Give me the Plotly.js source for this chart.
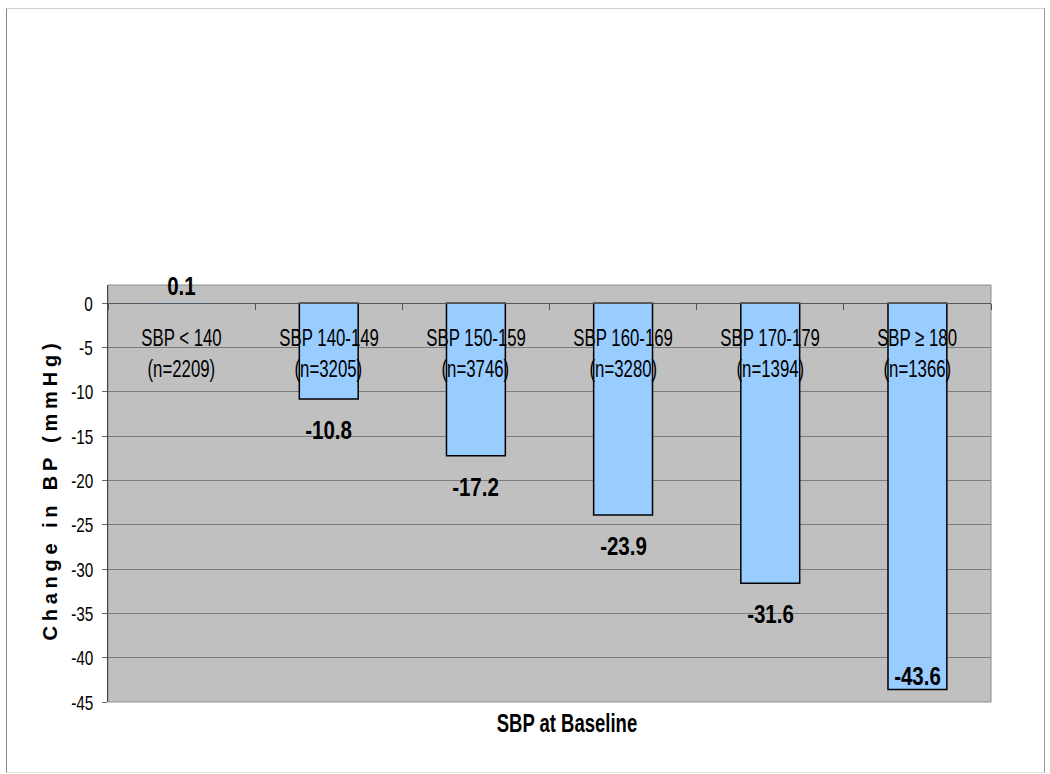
<!DOCTYPE html>
<html>
<head>
<meta charset="utf-8">
<script src="https://cdn.plot.ly/plotly-3.0.1.min.js"></script>
<style>
  html, body { margin: 0; padding: 0; background: #fff; }
  #wrap { position: relative; width: 1050px; height: 774px; }
  #chart { position: absolute; left: 0; top: 0; width: 1050px; height: 774px; }
  #frame {
    position: absolute; left: 6px; top: 8px; width: 1037px; height: 763px;
    border-left: 1px solid #8a8a8a; border-top: 1px solid #cfcfcf;
    border-right: 1px solid #9a9a9a; border-bottom: 1px solid #e2e2e2;
    pointer-events: none;
  }
</style>
</head>
<body>
<div id="wrap">
  <div id="chart"></div>
  <div id="frame"></div>
</div>
<script>
// Baseline systolic groups, their sizes and mean change in BP (mmHg)
const groups = ['SBP < 140', 'SBP 140-149', 'SBP 150-159', 'SBP 160-169', 'SBP 170-179', 'SBP ≥ 180'];
const counts = [2209, 3205, 3746, 3280, 1394, 1366];
const changes = [0.1, -10.8, -17.2, -23.9, -31.6, -43.6];
const yTicks = [0, -5, -10, -15, -20, -25, -30, -35, -40, -45];

const W = 1050, H = 774;
const M = { l: 108, r: 59, t: 285, b: 72 };
const yMin = -45, yMax = 2.07;
const plotH = H - M.t - M.b;
const plotW = W - M.l - M.r;
const ppu = plotH / (yMax - yMin);

const sans = '"Liberation Sans", Arial, sans-serif';

// horizontal condensing applied to each annotation after drawing
const annotations = [];
const squeeze = [];
function addAnn(a, k, origin) {
  a.showarrow = false;
  annotations.push(a);
  squeeze.push({ k: k, origin: origin || 'center' });
}

// y tick labels
yTicks.forEach(t => {
  addAnn({
    xref: 'paper', yref: 'y', x: 0, y: t, xshift: -13,
    xanchor: 'right', yanchor: 'middle',
    text: String(t), font: { family: sans, size: 21, color: '#000' }
  }, 0.73, 'right center');
});

groups.forEach((g, i) => {
  addAnn({
    x: g, y: 0, xref: 'x', yref: 'y', yshift: -34, xanchor: 'center', yanchor: 'middle',
    text: g, font: { family: sans, size: 24, color: '#000' }
  }, 0.70);
  addAnn({
    x: g, y: 0, xref: 'x', yref: 'y', yshift: -65, xanchor: 'center', yanchor: 'middle',
    text: '(n=' + counts[i] + ')', font: { family: sans, size: 24, color: '#000' }
  }, 0.70);
  const v = changes[i];
  // value sits just past the bar end, kept inside the plot area at the bottom
  const shift = v >= 0 ? 16 : -Math.min(31, (v - yMin) * ppu - 26);
  addAnn({
    x: g, y: v, xref: 'x', yref: 'y', yshift: shift, xanchor: 'center', yanchor: 'middle',
    text: v.toFixed(1), font: { family: sans, size: 25, color: '#000', weight: 'bold' }
  }, 0.82);
});

addAnn({
  xref: 'paper', yref: 'paper', x: (567 - M.l) / plotW, y: -21 / plotH,
  xanchor: 'center', yanchor: 'middle',
  text: 'SBP at Baseline',
  font: { family: sans, size: 25, color: '#000', weight: 'bold' }
}, 0.74);

const yTitleIndex = annotations.length;
addAnn({
  xref: 'paper', yref: 'paper', x: (50 - M.l) / plotW, y: (H - M.b - 490) / plotH,
  xanchor: 'center', yanchor: 'middle',
  textangle: -90, text: 'Change in BP (mmHg)',
  font: { family: sans, size: 20, color: '#000', weight: 'bold' }
}, 1);

const trace = {
  type: 'bar',
  x: groups,
  y: changes,
  width: 0.4,
  marker: {
    color: '#99ccff',
    line: { color: '#000000', width: changes.map(v => Math.abs(v) < 0.5 ? 0 : 1.5) }
  },
  hoverinfo: 'skip'
};

const layout = {
  width: W, height: H,
  margin: M,
  paper_bgcolor: '#ffffff',
  plot_bgcolor: '#c0c0c0',
  showlegend: false,
  xaxis: {
    type: 'category',
    anchor: 'free',
    position: (0 - yMin) / (yMax - yMin),
    showline: true, linecolor: '#555555', linewidth: 1,
    ticks: 'outside', tickson: 'boundaries', ticklen: 6, tickcolor: '#555555',
    showticklabels: false, showgrid: false, zeroline: false,
    fixedrange: true
  },
  yaxis: {
    range: [yMin, yMax],
    tickvals: yTicks,
    showticklabels: false,
    showgrid: true, gridcolor: '#7c7c7c', gridwidth: 1,
    zeroline: false,
    showline: true, linecolor: '#444444', linewidth: 1,
    ticks: 'outside', ticklen: 5, tickcolor: '#666666',
    fixedrange: true
  },
  shapes: [
    {
      type: 'rect', xref: 'paper', yref: 'paper', x0: 0, x1: 1, y0: 0, y1: 1,
      line: { color: '#8c8c8c', width: 1 }, fillcolor: 'rgba(0,0,0,0)', layer: 'below'
    }
  ],
  annotations: annotations
};

Plotly.newPlot('chart', [trace], layout, { displayModeBar: false, staticPlot: true }).then(() => {
  document.querySelectorAll('g.annotation').forEach(g => {
    const idx = +g.getAttribute('data-index');
    const t = g.querySelector('text.annotation-text');
    if (!t) return;
    if (idx === yTitleIndex) {
      t.style.letterSpacing = '4.8px';
      return;
    }
    const s = squeeze[idx];
    if (s && s.k !== 1) {
      t.style.transformBox = 'fill-box';
      t.style.transformOrigin = s.origin;
      t.style.transform = 'scaleX(' + s.k + ')';
    }
  });
});
</script>
</body>
</html>
